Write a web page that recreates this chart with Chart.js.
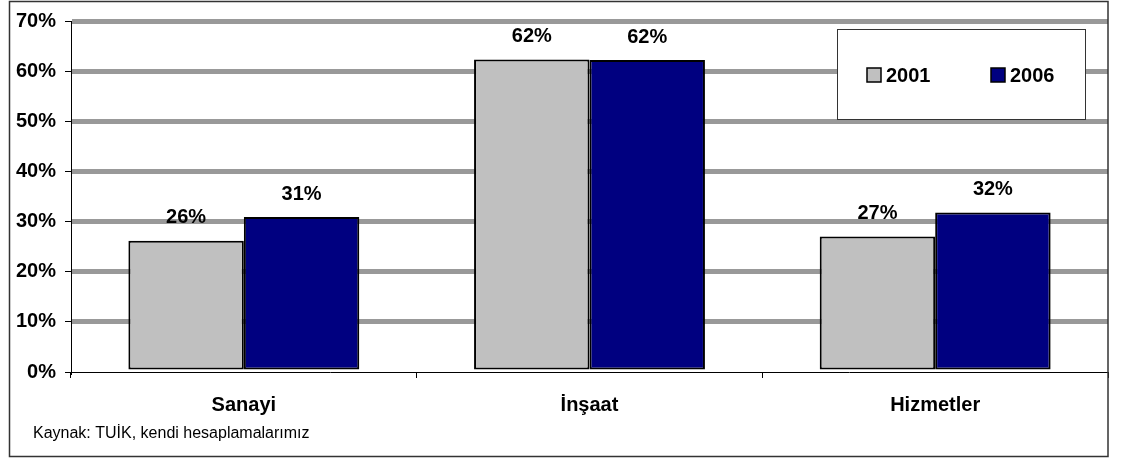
<!DOCTYPE html>
<html>
<head>
<meta charset="utf-8">
<script src="https://cdn.jsdelivr.net/npm/chart.js@4.4.0/dist/chart.umd.min.js"></script>
<style>
  body { margin: 0; background: #fff; }
  #wrap { width: 1129px; height: 459px; }
</style>
</head>
<body>
<div id="wrap"><canvas id="chart" width="1129" height="459"></canvas></div>
<script>
// data
const categories = ['Sanayi', 'İnşaat', 'Hizmetler'];
const years = ['2001', '2006'];
const values2001 = [26.2, 62.3, 27.0];
const values2006 = [30.9, 62.2, 31.8];
const barColors = ['#C0C0C0', '#000080'];
const sourceNote = 'Kaynak: TUİK, kendi hesaplamalarımız';

const boldFont = { family: 'Liberation Sans, Arial, sans-serif', size: 20, weight: 'bold' };

// white background + outer frame + footnote
const framePlugin = {
    id: 'frame',
    beforeDraw(chart) {
        const c = chart.ctx;
        c.save();
        c.fillStyle = '#fff';
        c.fillRect(0, 0, chart.width, chart.height);
        c.restore();
    },
    afterDraw(chart) {
        const c = chart.ctx;
        c.save();
        c.strokeStyle = '#333';
        c.lineWidth = 1.5;
        c.strokeRect(9.5, 1.5, chart.chartArea.right - 9.5, 455);
        c.fillStyle = '#000';
        c.font = '16px Liberation Sans, Arial, sans-serif';
        c.textBaseline = 'alphabetic';
        c.fillText(sourceNote, 33, 438);
        c.restore();
    }
};

// percent labels above bars
const labelPlugin = {
    id: 'barLabels',
    afterDatasetsDraw(chart) {
        const c = chart.ctx;
        c.save();
        c.font = 'bold 20px Liberation Sans, Arial, sans-serif';
        c.fillStyle = '#000';
        c.textAlign = 'center';
        c.textBaseline = 'middle';
        chart.data.datasets.forEach((ds, i) => {
            chart.getDatasetMeta(i).data.forEach((bar, j) => {
                c.fillText(Math.round(ds.data[j]) + '%', bar.x, bar.y - 23);
            });
        });
        c.restore();
    }
};

// boxed legend in the top right
const legendPlugin = {
    id: 'boxLegend',
    afterDraw(chart) {
        const c = chart.ctx;
        const x0 = 837, y0 = 29, w = 248, h = 90;
        c.save();
        c.fillStyle = '#fff';
        c.fillRect(x0, y0, w, h);
        c.strokeStyle = '#333';
        c.lineWidth = 1;
        c.strokeRect(x0 + 0.5, y0 + 0.5, w, h);
        c.font = 'bold 20px Liberation Sans, Arial, sans-serif';
        c.textBaseline = 'middle';
        const xs = [867, 991];
        chart.data.datasets.forEach((ds, i) => {
            c.fillStyle = ds.backgroundColor;
            c.fillRect(xs[i], 68, 14, 14);
            c.strokeStyle = '#000';
            c.lineWidth = 1.5;
            c.strokeRect(xs[i], 68, 14, 14);
            c.fillStyle = '#000';
            c.fillText(ds.label, xs[i] + 19, 76);
        });
        c.restore();
    }
};

new Chart(document.getElementById('chart'), {
    type: 'bar',
    data: {
        labels: categories,
        datasets: [
            { label: years[0], data: values2001, backgroundColor: barColors[0], borderColor: '#000', borderWidth: 2, borderSkipped: false },
            { label: years[1], data: values2006, backgroundColor: barColors[1], borderColor: '#000', borderWidth: 2, borderSkipped: false }
        ]
    },
    options: {
        responsive: false,
        animation: false,
        devicePixelRatio: 1,
        layout: { padding: { top: 21, right: 21, left: 0, bottom: 0 } },
        datasets: { bar: { categoryPercentage: 0.668, barPercentage: 1.0 } },
        plugins: { legend: { display: false }, tooltip: { enabled: false } },
        scales: {
            x: {
                grid: { offset: true, drawOnChartArea: false, drawTicks: true, tickLength: 6, tickColor: '#000', tickWidth: 1 },
                border: { display: true, color: '#000', width: 1 },
                ticks: { color: '#000', font: boldFont, padding: 15 },
                afterFit(scale) { scale.height = 87; }
            },
            y: {
                min: 0, max: 70,
                grid: {
                    color: (ctx) => ctx.tick && ctx.tick.value === 0 ? 'rgba(0,0,0,0)' : '#999',
                    lineWidth: 5,
                    tickLength: 6, tickColor: '#000', tickWidth: 1
                },
                border: { display: true, color: '#000', width: 1 },
                ticks: { stepSize: 10, color: '#000', font: boldFont, padding: 9, callback: v => v + '%' },
                afterFit(scale) { scale.width = 71; }
            }
        }
    },
    plugins: [framePlugin, labelPlugin, legendPlugin]
});
</script>
</body>
</html>
